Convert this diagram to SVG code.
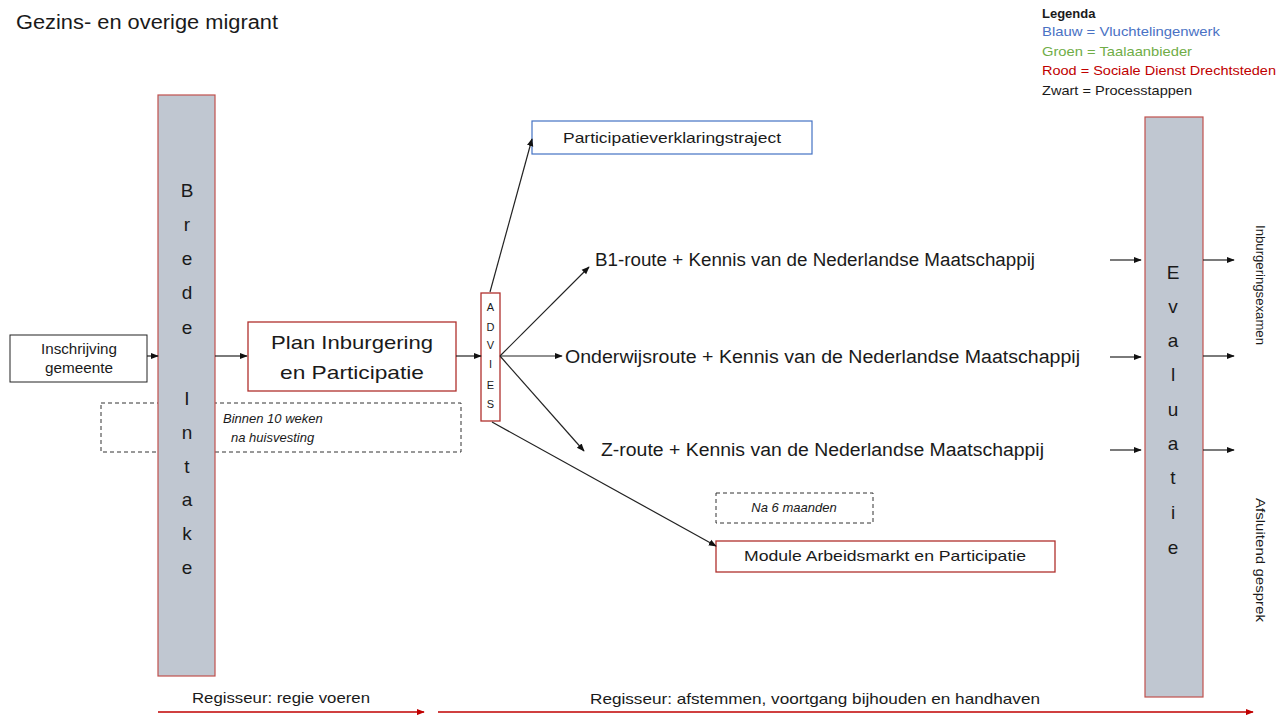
<svg xmlns="http://www.w3.org/2000/svg" width="1283" height="715" viewBox="0 0 1283 715">
<defs>
<style>
text{font-family:"Liberation Sans","Open Sans",sans-serif;fill:#1a1a1a}
.bar{fill:#c0c7d1;stroke:#c0504d;stroke-width:1.2}
.box{fill:#fff;stroke:#222;stroke-width:1}
.rbox{fill:#fff;stroke:#b0302d;stroke-width:1.3}
.bbox{fill:#fff;stroke:#4472c4;stroke-width:1.2}
.dash{fill:none;stroke:#333;stroke-width:1;stroke-dasharray:4 3}
.ln{stroke:#222;stroke-width:1.2;fill:none;marker-end:url(#ah)}
.rl{stroke:#c00000;stroke-width:1.5;fill:none;marker-end:url(#rh)}
.let{font-size:19px;text-anchor:middle}
.it{font-style:italic;font-size:13px}
</style>
<marker id="ah" viewBox="0 0 10 10" refX="9" refY="5" markerWidth="8" markerHeight="8" markerUnits="userSpaceOnUse" orient="auto"><path d="M0,1 L10,5 L0,9 z" fill="#111"/></marker>
<marker id="rh" viewBox="0 0 10 10" refX="9" refY="5" markerWidth="8" markerHeight="8" markerUnits="userSpaceOnUse" orient="auto"><path d="M0,1 L10,5 L0,9 z" fill="#c00000"/></marker>
</defs>

<text x="16" y="29" font-size="20" textLength="262" lengthAdjust="spacingAndGlyphs">Gezins- en overige migrant</text>

<g id="legend" font-size="13">
<text x="1042" y="18" font-weight="bold" font-size="13">Legenda</text>
<text x="1042" y="36" style="fill:#4a72c4" textLength="178" lengthAdjust="spacingAndGlyphs">Blauw = Vluchtelingenwerk</text>
<text x="1042" y="56" style="fill:#70ad47" textLength="150" lengthAdjust="spacingAndGlyphs">Groen = Taalaanbieder</text>
<text x="1042" y="75" style="fill:#c00000" textLength="234" lengthAdjust="spacingAndGlyphs">Rood = Sociale Dienst Drechtsteden</text>
<text x="1042" y="95" textLength="150" lengthAdjust="spacingAndGlyphs">Zwart = Processtappen</text>
</g>

<g id="dash-binnen">
<rect class="dash" x="101" y="403" width="360" height="49"/>
<text class="it" x="223" y="423">Binnen 10 weken</text>
<text class="it" x="231" y="442">na huisvesting</text>
</g>

<g id="brede-intake">
<rect class="bar" x="158" y="95" width="57" height="581"/>
<text class="let" x="187" y="197">B</text>
<text class="let" x="187" y="231">r</text>
<text class="let" x="187" y="265">e</text>
<text class="let" x="187" y="299">d</text>
<text class="let" x="187" y="334">e</text>
<text class="let" x="187" y="405">I</text>
<text class="let" x="187" y="439">n</text>
<text class="let" x="187" y="473">t</text>
<text class="let" x="187" y="506">a</text>
<text class="let" x="187" y="540">k</text>
<text class="let" x="187" y="574">e</text>
</g>

<g id="evaluatie">
<rect class="bar" x="1145" y="117" width="58" height="580"/>
<text class="let" x="1173" y="279">E</text>
<text class="let" x="1173" y="313">v</text>
<text class="let" x="1173" y="347">a</text>
<text class="let" x="1173" y="381">l</text>
<text class="let" x="1173" y="416">u</text>
<text class="let" x="1173" y="450">a</text>
<text class="let" x="1173" y="484">t</text>
<text class="let" x="1173" y="519">i</text>
<text class="let" x="1173" y="554">e</text>
</g>

<g id="inschrijving">
<rect class="box" x="10" y="335" width="137" height="47"/>
<text x="79" y="354" font-size="14" text-anchor="middle" textLength="76" lengthAdjust="spacingAndGlyphs">Inschrijving</text>
<text x="79" y="373" font-size="14" text-anchor="middle" textLength="68" lengthAdjust="spacingAndGlyphs">gemeente</text>
</g>

<g id="plan">
<rect class="rbox" x="248" y="322" width="208" height="69"/>
<text x="352" y="349" font-size="19" text-anchor="middle" textLength="162" lengthAdjust="spacingAndGlyphs">Plan Inburgering</text>
<text x="352" y="379" font-size="19" text-anchor="middle" textLength="144" lengthAdjust="spacingAndGlyphs">en Participatie</text>
</g>

<g id="advies">
<rect class="rbox" x="481" y="293" width="19" height="128"/>
<g font-size="11" text-anchor="middle">
<text x="490.5" y="311">A</text>
<text x="490.5" y="331">D</text>
<text x="490.5" y="349">V</text>
<text x="490.5" y="368">I</text>
<text x="490.5" y="389">E</text>
<text x="490.5" y="408">S</text>
</g>
</g>

<g id="participatieverklaring">
<rect class="bbox" x="532" y="121" width="280" height="33"/>
<text x="672" y="143" font-size="15" text-anchor="middle" textLength="218" lengthAdjust="spacingAndGlyphs">Participatieverklaringstraject</text>
</g>

<g id="b1-route">
<text x="595" y="266" font-size="18" textLength="440" lengthAdjust="spacingAndGlyphs">B1-route + Kennis van de Nederlandse Maatschappij</text>
</g>
<g id="onderwijsroute">
<text x="565" y="363" font-size="18" textLength="515" lengthAdjust="spacingAndGlyphs">Onderwijsroute + Kennis van de Nederlandse Maatschappij</text>
</g>
<g id="z-route">
<text x="601" y="456" font-size="18" textLength="443" lengthAdjust="spacingAndGlyphs">Z-route + Kennis van de Nederlandse Maatschappij</text>
</g>

<g id="na6">
<rect class="dash" x="716" y="493" width="157" height="30"/>
<text class="it" x="794" y="512" text-anchor="middle">Na 6 maanden</text>
</g>

<g id="module">
<rect class="rbox" x="716" y="541" width="339" height="31"/>
<text x="885" y="561" font-size="15" text-anchor="middle" textLength="282" lengthAdjust="spacingAndGlyphs">Module Arbeidsmarkt en Participatie</text>
</g>

<g id="outcomes" font-size="13">
<text transform="translate(1256,285) rotate(90)" text-anchor="middle" textLength="120" lengthAdjust="spacingAndGlyphs">Inburgeringsexamen</text>
<text transform="translate(1256,560) rotate(90)" text-anchor="middle" textLength="124" lengthAdjust="spacingAndGlyphs">Afsluitend gesprek</text>
</g>

<g id="regisseur" font-size="15">
<text x="192" y="703" textLength="178" lengthAdjust="spacingAndGlyphs">Regisseur: regie voeren</text>
<text x="590" y="704" textLength="450" lengthAdjust="spacingAndGlyphs">Regisseur: afstemmen, voortgang bijhouden en handhaven</text>
</g>

<g id="connectors">
<line class="ln" x1="147" y1="356" x2="158" y2="356"/>
<line class="ln" x1="215" y1="356" x2="247" y2="356"/>
<line class="ln" x1="456" y1="356" x2="481" y2="356"/>
<line class="ln" x1="490" y1="292" x2="532" y2="139"/>
<line class="ln" x1="500" y1="356" x2="589" y2="267"/>
<line class="ln" x1="500" y1="356" x2="562" y2="356"/>
<line class="ln" x1="500" y1="356" x2="584" y2="451"/>
<line class="ln" x1="492" y1="422" x2="716" y2="546"/>
<line class="ln" x1="1110" y1="260" x2="1141" y2="260"/>
<line class="ln" x1="1110" y1="357" x2="1141" y2="357"/>
<line class="ln" x1="1110" y1="450" x2="1141" y2="450"/>
<line class="ln" x1="1203" y1="260" x2="1234" y2="260"/>
<line class="ln" x1="1203" y1="356" x2="1234" y2="356"/>
<line class="ln" x1="1203" y1="450" x2="1234" y2="450"/>
<line class="rl" x1="158" y1="712" x2="424" y2="712"/>
<line class="rl" x1="438" y1="712" x2="1253" y2="712"/>
</g>
</svg>
